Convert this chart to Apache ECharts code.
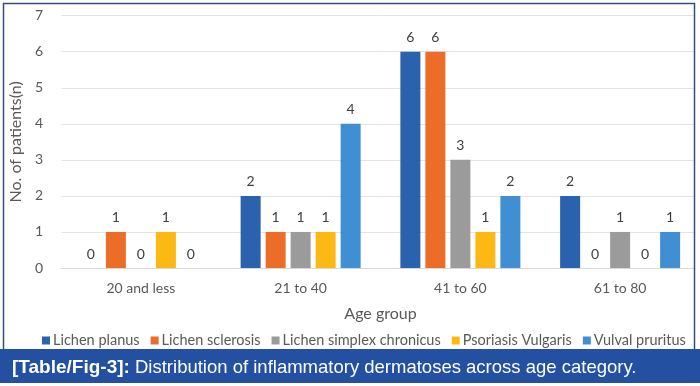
<!DOCTYPE html>
<html><head><meta charset="utf-8">
<script src="https://cdn.jsdelivr.net/npm/echarts@6/dist/echarts.min.js"></script>
<style>html,body{margin:0;padding:0;background:#fff}#c{width:700px;height:386px}</style>
</head><body><div id="c"></div>
<script>
const categories = ['20 and less', '21 to 40', '41 to 60', '61 to 80'];
const seriesNames = ['Lichen planus', 'Lichen sclerosis', 'Lichen simplex chronicus', 'Psoriasis Vulgaris', 'Vulval pruritus'];
const lichenPlanus = [0, 2, 6, 2];
const lichenSclerosis = [1, 1, 6, 0];
const lichenSimplex = [0, 1, 3, 1];
const psoriasis = [1, 1, 1, 0];
const vulvalPruritus = [0, 4, 2, 1];
const colors = ['#2A62AE', '#EC6D27', '#9B9B9B', '#FDB913', '#3F8FD2'];
const yTicks = [0, 1, 2, 3, 4, 5, 6, 7];

const data = [lichenPlanus, lichenSclerosis, lichenSimplex, psoriasis, vulvalPruritus];
const font = 'Lato, "Open Sans", sans-serif';
const chart = echarts.init(document.getElementById('c'));
chart.setOption({
  animation: false,
  backgroundColor: '#fff',
  color: colors,
  textStyle: { fontFamily: font },
  grid: { left: 53, right: -4, top: 15.7, bottom: 118, containLabel: false },
  legend: {
    bottom: 33, left: 37, itemWidth: 8, itemHeight: 8, itemGap: 11,
    icon: 'rect',
    textStyle: { fontSize: 14.5, color: '#595959', fontFamily: font, padding: [0, 0, 0, -2] },
    data: seriesNames
  },
  xAxis: {
    type: 'category', data: categories,
    name: 'Age group', nameLocation: 'middle', nameGap: 38,
    nameTextStyle: { fontSize: 16, color: '#595959', fontFamily: font },
    axisLine: { lineStyle: { color: '#D9D9D9' } },
    axisTick: { show: false },
    axisLabel: { fontSize: 14, color: '#595959', margin: 13, fontFamily: font }
  },
  yAxis: {
    type: 'value', min: yTicks[0], max: yTicks[yTicks.length - 1], interval: 1,
    name: 'No. of patients(n)', nameLocation: 'middle', nameGap: 37, nameRotate: 90,
    nameTextStyle: { fontSize: 16, color: '#595959', fontFamily: font },
    axisLine: { show: false }, axisTick: { show: false },
    axisLabel: { fontSize: 14, color: '#595959', margin: 18, fontFamily: font },
    splitLine: { lineStyle: { color: '#E3E3E3' } }
  },
  series: seriesNames.map((n, i) => ({
    name: n, type: 'bar', data: data[i],
    barWidth: 20, barGap: '25%',
    label: { show: true, position: 'top', distance: 7, fontSize: 14, color: '#404040', fontFamily: font }
  })),
  graphic: [
    { type: 'rect', z: 100, shape: { x: 694.5, y: 0, width: 10, height: 349 }, style: { fill: '#fff' } },
    { type: 'rect', z: 101, shape: { x: 3.5, y: 3.5, width: 691, height: 350 }, style: { fill: 'none', stroke: '#2F4F7F', lineWidth: 1.5 } },
    { type: 'rect', z: 102, shape: { x: 0, y: 349, width: 700, height: 34 }, style: { fill: '#2350A0' } },
    { type: 'text', z: 103, x: 12, y: 368, style: { text: '{b|[Table/Fig-3]:} Distribution of inflammatory dermatoses across age category.', fill: '#fff', fontSize: 18.5, fontFamily: '"Liberation Sans", Arial, sans-serif', verticalAlign: 'middle', rich: { b: { fontWeight: 'bold', fontSize: 19, fill: '#fff', fontFamily: '"Liberation Sans", Arial, sans-serif' } } } }
  ]
});
</script></body></html>
